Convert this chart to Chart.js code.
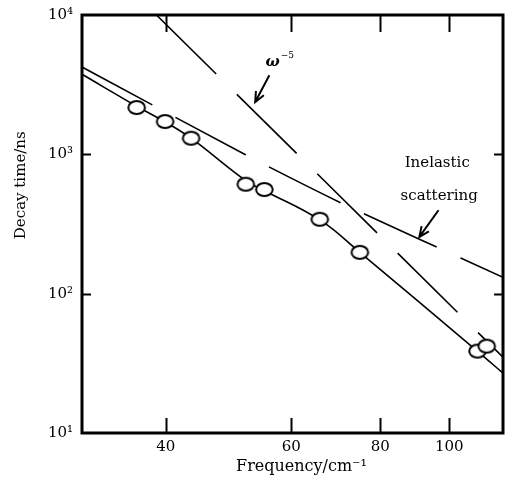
<!DOCTYPE html>
<html>
<head>
<meta charset="utf-8">
<script src="https://cdn.jsdelivr.net/npm/chart.js@4.4.0/dist/chart.umd.min.js"></script>
<style>
  html, body { margin: 0; padding: 0; background: #fff; }
  #wrap { width: 512px; height: 482px; }
</style>
</head>
<body>
<div id="wrap"><canvas id="decayChart"></canvas></div>
<script>
// measured decay times (frequency in cm^-1, decay time in ns)
const measFreq = [36.4, 39.9, 43.4, 51.8, 55.0, 65.8, 74.9, 109.6, 112.9];
const measDecay = [2167, 1719, 1305, 610, 559, 342, 198, 38.7, 42.0];

// full calculated curve
const fitFreq = [30.5, 36.4, 40.0, 43.4, 51.9, 55.2, 65.9, 74.9, 109.5, 119];
const fitDecay = [3755, 2214, 1699, 1305, 641, 544, 337, 198, 38.7, 26.9];

// inelastic scattering contribution
const inelFreq = [30.5, 51.6, 70.5, 90.5, 119];
const inelDecay = [4236, 1002, 448, 248, 131];

// omega^-5 law
const powFreq = [38.8, 119];
const powDecay = [10000, 35];

const xTicks = [40, 60, 80, 100];
const yTicks = [10, 100, 1000, 10000];
const yTickLabels = ['10¹', '10²', '10³', '10⁴'];

const serif = '"DejaVu Serif", serif';

const toPoints = (xs, ys) => xs.map((x, i) => ({ x, y: ys[i] }));

function ringImage() {
  const c = document.createElement('canvas');
  c.width = 21;
  c.height = 17;
  const g = c.getContext('2d');
  g.beginPath();
  g.ellipse(10.5, 8.5, 8.3, 6.5, 0, 0, Math.PI * 2);
  g.fillStyle = '#fff';
  g.fill();
  g.lineWidth = 2;
  g.strokeStyle = '#000';
  g.stroke();
  return c;
}

function arrow(ctx, x0, y0, x1, y1) {
  const ang = Math.atan2(y1 - y0, x1 - x0);
  const len = 11;
  ctx.beginPath();
  ctx.moveTo(x0, y0);
  ctx.lineTo(x1, y1);
  ctx.moveTo(x1 - len * Math.cos(ang - 0.42), y1 - len * Math.sin(ang - 0.42));
  ctx.lineTo(x1, y1);
  ctx.lineTo(x1 - len * Math.cos(ang + 0.42), y1 - len * Math.sin(ang + 0.42));
  ctx.stroke();
}

const framePlugin = {
  id: 'frame',
  afterDraw(chart) {
    const { ctx, chartArea: a, scales: { x, y } } = chart;
    ctx.save();
    ctx.strokeStyle = '#000';
    ctx.lineWidth = 3;
    ctx.strokeRect(a.left, a.top, a.right - a.left, a.bottom - a.top);

    ctx.lineWidth = 2;
    ctx.beginPath();
    xTicks.forEach(v => {
      const px = Math.round(x.getPixelForValue(v)) + 0.5;
      ctx.moveTo(px, a.bottom);
      ctx.lineTo(px, a.bottom - 15);
      ctx.moveTo(px, a.top);
      ctx.lineTo(px, a.top + 17);
    });
    [100, 1000].forEach(v => {
      const py = Math.round(y.getPixelForValue(v)) + 0.5;
      ctx.moveTo(a.left, py);
      ctx.lineTo(a.left + 9, py);
      ctx.moveTo(a.right, py);
      ctx.lineTo(a.right - 9, py);
    });
    ctx.stroke();

    // axis titles
    ctx.fillStyle = '#000';
    ctx.font = '16px ' + serif;
    ctx.textAlign = 'center';
    ctx.textBaseline = 'middle';
    ctx.fillText('Frequency/cm⁻¹', (a.left + a.right) / 2 + 9, 467);
    ctx.save();
    ctx.translate(21, y.getPixelForValue(600));
    ctx.rotate(-Math.PI / 2);
    ctx.font = '15px ' + serif;
    ctx.fillText('Decay time/ns', 0, 0);
    ctx.restore();

    // omega^-5 label and arrow
    const ox = x.getPixelForValue(56.5);
    const oy = y.getPixelForValue(4600);
    ctx.font = 'bold italic 15px ' + serif;
    ctx.fillText('ω', ox, oy);
    ctx.font = '9px ' + serif;
    ctx.textAlign = 'left';
    ctx.fillText('−5', ox + 8, oy - 6);
    arrow(ctx, x.getPixelForValue(55.9), y.getPixelForValue(3693),
      x.getPixelForValue(53.4), y.getPixelForValue(2376));

    // inelastic scattering label and arrow
    ctx.textAlign = 'center';
    ctx.font = '15px ' + serif;
    ctx.fillText('Inelastic', x.getPixelForValue(96.2), y.getPixelForValue(870));
    ctx.fillText('scattering', x.getPixelForValue(96.8), y.getPixelForValue(500));
    arrow(ctx, x.getPixelForValue(96.6), y.getPixelForValue(397),
      x.getPixelForValue(90.8), y.getPixelForValue(255.5));
    ctx.restore();
  }
};

const chart = new Chart(document.getElementById('decayChart'), {
  type: 'scatter',
  data: {
    datasets: [
      {
        label: 'measured',
        data: toPoints(measFreq, measDecay),
        pointStyle: ringImage(),
        pointRadius: 8,
        showLine: false,
      },
      {
        label: 'calculated',
        data: toPoints(fitFreq, fitDecay),
        showLine: true,
        borderColor: '#000',
        borderWidth: 1.6,
        pointRadius: 0,
        tension: 0.4,
      },
      {
        label: 'inelastic',
        data: toPoints(inelFreq, inelDecay),
        showLine: true,
        borderColor: '#000',
        borderWidth: 1.6,
        borderDash: [80, 26],
        pointRadius: 0,
        tension: 0.3,
      },
      {
        label: 'omega^-5',
        data: toPoints(powFreq, powDecay),
        showLine: true,
        borderColor: '#000',
        borderWidth: 1.6,
        borderDash: [84, 29],
        pointRadius: 0,
      },
    ],
  },
  options: {
    responsive: true,
    maintainAspectRatio: false,
    animation: false,
    layout: { padding: { left: 0, top: 15, right: 7, bottom: 0 } },
    plugins: {
      legend: { display: false },
      tooltip: { enabled: false },
    },
    scales: {
      x: {
        type: 'logarithmic',
        min: 30.5,
        max: 119,
        afterBuildTicks: s => { s.ticks = xTicks.map(v => ({ value: v })); },
        afterFit: s => {
          s.height = 49;
          s.paddingLeft = 0;
          s.paddingRight = 0;
        },
        ticks: {
          callback: v => String(v),
          color: '#000',
          font: { family: serif, size: 15 },
          padding: 5,
          maxRotation: 0,
          autoSkip: false,
        },
        grid: { display: false, drawTicks: false },
        border: { display: false },
      },
      y: {
        type: 'logarithmic',
        min: 10,
        max: 10000,
        afterBuildTicks: s => { s.ticks = yTicks.map(v => ({ value: v })); },
        afterFit: s => {
          s.width = 82;
          s.paddingTop = 0;
          s.paddingBottom = 0;
        },
        ticks: {
          callback: (v, i) => yTickLabels[i],
          color: '#000',
          font: { family: serif, size: 15 },
          padding: 9,
          autoSkip: false,
        },
        grid: { display: false, drawTicks: false },
        border: { display: false },
      },
    },
  },
  plugins: [framePlugin],
});
</script>
</body>
</html>
